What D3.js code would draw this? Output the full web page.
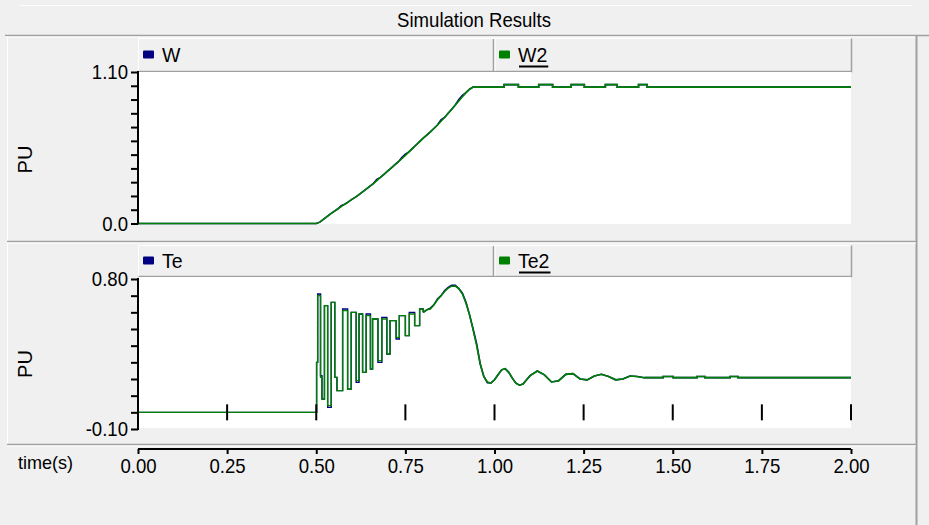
<!DOCTYPE html>
<html><head><meta charset="utf-8">
<script src="https://cdn.jsdelivr.net/npm/d3@7"></script>
<style>
html,body{margin:0;padding:0;background:#f0f0f0;}
svg{display:block;}
text{font-family:"Liberation Sans",Arial,sans-serif;fill:#000;}
</style></head>
<body><svg id="c" width="929" height="525"></svg>
<script>
// ---------- data ----------
const title = "Simulation Results";
const xTicks = [0, 0.25, 0.5, 0.75, 1.0, 1.25, 1.5, 1.75, 2.0];
const xTickLabels = ["0.00","0.25","0.50","0.75","1.00","1.25","1.50","1.75","2.00"];
const y1Ticks = [0,0.1,0.2,0.3,0.4,0.5,0.6,0.7,0.8,0.9,1.0,1.1];
const y1Labels = [[1.1,"1.10"],[0,"0.0"]];
const y2Ticks = [-0.1,0,0.1,0.2,0.3,0.4,0.5,0.6,0.7,0.8];
const y2Labels = [[0.8,"0.80"],[-0.1,"-0.10"]];
const legend1 = ["W","W2"];
const legend2 = ["Te","Te2"];

// speed (pu)
const tW = [0,0.50,0.51,0.52,0.53,0.54,0.55,0.56,0.57,0.58,0.59,0.60,0.61,0.62,0.63,0.64,0.65,0.66,0.67,0.68,0.69,0.70,
  0.71,0.72,0.73,0.74,0.75,0.76,0.77,0.78,0.79,0.80,0.81,0.82,0.83,0.84,0.85,0.86,0.87,0.88,0.89,0.90,0.91,0.92,0.93,0.94,
  1.027,1.027,1.067,1.067,1.124,1.124,1.163,1.163,1.215,1.215,1.252,1.252,1.311,1.311,1.344,1.344,1.404,1.404,1.428,1.428,2.00];
const W2 = [0,0,0.01,0.03,0.05,0.07,0.088,0.105,0.122,0.14,0.157,0.175,0.192,0.21,0.23,0.25,0.27,0.29,0.312,0.335,0.357,0.38,
  0.402,0.425,0.447,0.47,0.495,0.52,0.545,0.57,0.595,0.62,0.642,0.665,0.69,0.715,0.742,0.77,0.80,0.83,0.86,0.89,0.92,0.95,0.975,0.99,
  0.99,1.008,1.008,0.99,0.99,1.008,1.008,0.99,0.99,1.008,1.008,0.99,0.99,1.008,1.008,0.99,0.99,1.008,1.008,0.99,0.99];
const W = [0,0,0.01,0.03,0.05,0.07,0.088,0.105,0.13,0.14,0.157,0.175,0.192,0.21,0.23,0.25,0.27,0.29,0.32,0.335,0.357,0.38,
  0.402,0.425,0.447,0.478,0.503,0.52,0.545,0.57,0.595,0.62,0.642,0.665,0.69,0.715,0.752,0.77,0.80,0.83,0.86,0.90,0.93,0.95,0.975,0.99,
  0.99,1.008,1.008,0.99,0.99,1.008,1.008,0.99,0.99,1.008,1.008,0.99,0.99,1.008,1.008,0.99,0.99,1.008,1.008,0.99,0.99];

// electrical torque (pu); samples up to 0.80 s are held (step), later ones joined
const tTe = [0,0.501,0.504,0.512,0.516,0.523,0.532,0.542,0.552,0.558,0.574,0.588,0.598,0.612,0.620,0.630,0.640,0.652,0.658,0.673,
  0.684,0.698,0.707,0.724,0.733,0.750,0.761,0.776,0.790,0.80,0.81,0.82,0.83,0.84,0.85,0.86,0.87,0.88,0.89,0.90,
  0.91,0.92,0.93,0.94,0.95,0.96,0.97,0.98,0.99,1.00,1.01,1.02,1.03,1.04,1.05,1.06,1.07,1.08,1.09,1.10,
  1.12,1.14,1.16,1.18,1.20,1.22,1.24,1.26,1.28,1.30,1.32,1.34,1.36,1.38,1.40,1.42,
  1.473,1.473,1.501,1.501,1.568,1.568,1.590,1.590,1.661,1.661,1.683,1.683,2.00];
const Te2 = [0.00,0.30,0.70,0.21,0.08,0.64,0.04,0.66,0.21,0.13,
  0.61,0.14,0.60,0.19,0.59,0.24,0.58,0.26,0.56,0.31,
  0.56,0.35,0.55,0.45,0.58,0.46,0.59,0.52,0.62,0.60,
  0.615,0.62,0.645,0.675,0.70,0.725,0.745,0.757,0.758,0.742,
  0.71,0.655,0.585,0.495,0.40,0.29,0.215,0.182,0.176,0.195,
  0.225,0.255,0.262,0.24,0.205,0.175,0.163,0.17,0.195,0.22,
  0.248,0.225,0.182,0.19,0.228,0.232,0.20,0.195,0.218,0.228,
  0.215,0.195,0.20,0.218,0.215,0.208,
  0.208,0.215,0.215,0.208,0.208,0.215,0.215,0.208,0.208,0.215,0.215,0.208,0.208];
const Te = [0.00,0.30,0.71,0.22,0.08,0.64,0.03,0.66,0.21,0.13,
  0.62,0.14,0.60,0.18,0.59,0.24,0.59,0.26,0.56,0.30,
  0.57,0.35,0.55,0.44,0.58,0.46,0.60,0.52,0.62,0.60,
  0.615,0.625,0.645,0.68,0.70,0.73,0.75,0.762,0.762,0.742,
  0.715,0.66,0.585,0.50,0.41,0.29,0.215,0.178,0.176,0.195,
  0.225,0.255,0.262,0.24,0.205,0.175,0.163,0.17,0.195,0.22,
  0.248,0.225,0.182,0.19,0.228,0.232,0.20,0.195,0.218,0.228,
  0.215,0.195,0.20,0.218,0.215,0.208,
  0.208,0.215,0.215,0.208,0.208,0.215,0.215,0.208,0.208,0.215,0.215,0.208,0.208];
const stepUntil = 0.80;

const NAVY = "#000080", GREEN = "#008000";
const FONT_SX = 0.93;

// ---------- drawing ----------
const svg = d3.select("#c");
const x = d3.scaleLinear().domain([0,2]).range([138,851]);
const y1 = d3.scaleLinear().domain([0,1.1]).range([223.5,72]);
const y2 = d3.scaleLinear().domain([-0.1,0.8]).range([429,279]);

function hline(x1,x2,yy,c,w){svg.append("line").attr("x1",x1).attr("x2",x2).attr("y1",yy).attr("y2",yy).attr("stroke",c).attr("stroke-width",w||1);}
function vline(xx,yA,yB,c,w){svg.append("line").attr("x1",xx).attr("x2",xx).attr("y1",yA).attr("y2",yB).attr("stroke",c).attr("stroke-width",w||1);}
function ctext(parent,tx,ty,str,size,anchor,sx){
  const g = parent.append("g").attr("transform",`translate(${tx},${ty}) scale(${sx||FONT_SX},1)`);
  return g.append("text").attr("text-anchor",anchor||"start").style("font-size",size+"px").text(str);
}

// frame
hline(20,912,5.5,"#ffffff",1);
ctext(svg,474,27,title,20,"middle");
hline(5,929,35.5,"#a0a0a0",1.5);
hline(5,916,37,"#ffffff",1);
vline(916.5,36,525,"#a0a0a0",2);
vline(7.5,37,444,"#ffffff",1);
hline(7,916,241.5,"#a0a0a0",1.5);
hline(7,916,243,"#ffffff",1);
hline(7,916,444.5,"#a0a0a0",1.5);
hline(7,916,446,"#ffffff",1);

function panel(top, legBottom, plotBottom, yScale, ticks, labels, legendNames, series, idx){
  const g = svg.append("g");
  g.append("rect").attr("x",138.5).attr("y",top+0.5).attr("width",712.5).attr("height",legBottom-top).attr("fill","#f0f0f0");
  g.append("path").attr("d",`M138.5,${legBottom} V${top+0.5} H851`).attr("fill","none").attr("stroke","#ffffff");
  g.append("path").attr("d",`M138.5,${legBottom+0.5} H851.5 V${top+0.5}`).attr("fill","none").attr("stroke","#a0a0a0").attr("stroke-width",1.5);
  g.append("line").attr("x1",493.5).attr("x2",493.5).attr("y1",top+1).attr("y2",legBottom).attr("stroke","#a0a0a0").attr("stroke-width",1.5);
  g.append("line").attr("x1",495).attr("x2",495).attr("y1",top+1).attr("y2",legBottom).attr("stroke","#ffffff");
  const mid = (top+legBottom)/2;
  const items = [{x:143,c:NAVY,name:legendNames[0],u:false},{x:499,c:GREEN,name:legendNames[1],u:true}];
  items.forEach(it=>{
    g.append("rect").attr("x",it.x).attr("y",mid-4).attr("width",11).attr("height",8).attr("rx",1).attr("fill",it.c);
    const t = ctext(g,it.x+19,mid+7.5,it.name,21,"start");
    if(it.u){ const w = t.node().getComputedTextLength()*FONT_SX;
      g.append("line").attr("x1",it.x+20).attr("x2",it.x+20+w).attr("y1",mid+12).attr("y2",mid+12).attr("stroke","#000").attr("stroke-width",2);}
  });
  svg.append("rect").attr("x",139).attr("y",legBottom+1).attr("width",712).attr("height",plotBottom-legBottom-1).attr("fill","#ffffff");
  const cid = "clip"+idx;
  svg.append("clipPath").attr("id",cid).append("rect").attr("x",139).attr("y",legBottom+1).attr("width",712).attr("height",plotBottom-legBottom+2);
  const ax = svg.append("g").attr("transform","translate(138,0)")
    .call(d3.axisLeft(yScale).tickValues(ticks).tickSize(7).tickFormat(""));
  ax.select(".domain").remove();
  ax.selectAll("line").attr("stroke","#000").attr("stroke-width",2);
  vline(138,yScale.range()[1]-1,yScale.range()[0]+1,"#000",2);
  labels.forEach(([v,s])=>{ ctext(svg,128,yScale(v)+7,s,20,"end"); });
  svg.append("text").attr("transform",`translate(32,${(legBottom+plotBottom)/2+12}) rotate(-90)`).attr("text-anchor","middle").style("font-size","20px").text("PU");
  const gl = svg.append("g").attr("clip-path",`url(#${cid})`);
  series.forEach(s=>{
    const idxs = d3.range(s.t.length);
    const lineL = d3.line().x(i=>x(s.t[i])).y(i=>yScale(s.v[i]));
    if(s.stepUntil!=null){
      const lineS = d3.line().x(i=>x(s.t[i])).y(i=>yScale(s.v[i])).curve(d3.curveStepAfter);
      gl.append("path").attr("d",lineS(idxs.filter(i=>s.t[i]<=s.stepUntil))).attr("fill","none")
        .attr("stroke",s.c).attr("stroke-width",1.4);
      gl.append("path").attr("d",lineL(idxs.filter(i=>s.t[i]>=s.stepUntil))).attr("fill","none")
        .attr("stroke",s.c).attr("stroke-width",1.6);
    } else {
      gl.append("path").attr("d",lineL(idxs)).attr("fill","none").attr("stroke",s.c).attr("stroke-width",1.6);
    }
  });
  return gl;
}

panel(38,71,224,y1,y1Ticks,y1Labels,legend1,[{t:tW,v:W,c:NAVY},{t:tW,v:W2,c:GREEN}],1);
panel(245,276,428,y2,y2Ticks,y2Labels,legend2,[{t:tTe,v:Te,c:NAVY,stepUntil},{t:tTe,v:Te2,c:GREEN,stepUntil}],2);

// x ticks inside lower panel (centred on zero)
xTicks.filter(v=>v>0).forEach(v=>{
  svg.append("line").attr("x1",x(v)).attr("x2",x(v)).attr("y1",y2(0)-8).attr("y2",y2(0)+8).attr("stroke","#000").attr("stroke-width",2);
});

// bottom time axis
const xa = svg.append("g").attr("transform","translate(0,449)")
  .call(d3.axisBottom(x).tickValues(xTicks).tickSize(5).tickFormat((d,i)=>xTickLabels[i]));
xa.select(".domain").attr("d",`M${x(0)},0H${x(2)}`).attr("stroke","#000").attr("stroke-width",2);
xa.selectAll(".tick line").attr("stroke","#000").attr("stroke-width",2);
xa.selectAll(".tick text").attr("y",10).attr("transform",`scale(${FONT_SX},1)`)
  .style("font-size","20px").style("font-family","'Liberation Sans',Arial,sans-serif").attr("fill","#000");
ctext(svg,18,469,"time(s)",19,"start",0.95);
</script></body></html>
